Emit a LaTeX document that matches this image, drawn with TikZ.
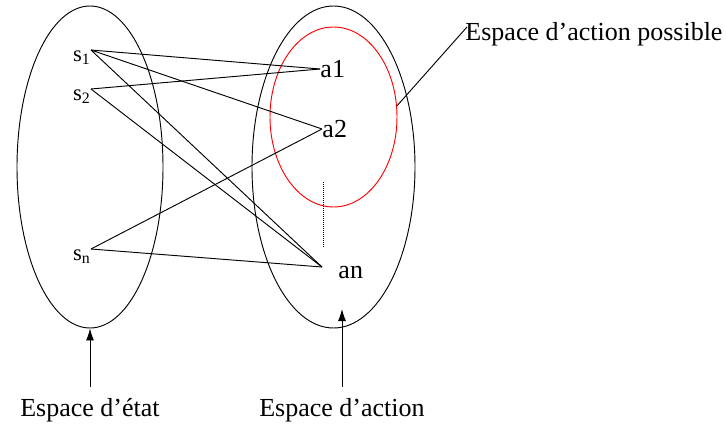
\documentclass[tikz,border=0pt]{standalone}
\usepackage{fontspec}
\setmainfont{Liberation Serif}
\usepackage{xcolor}
\usetikzlibrary{positioning,shapes.geometric,arrows.meta,calc}

\begin{document}
\begin{tikzpicture}[x=0.75pt,y=-0.75pt,line width=0.7pt,
    lbl/.style={font=\fontsize{19.5}{23}\selectfont, inner sep=0pt},
    small/.style={font=\fontsize{17}{20}\selectfont, inner sep=0pt},
    space/.style={draw, ellipse, inner sep=0pt},
    up/.style={-{Latex[length=9pt,width=6pt]}}]
    \useasboundingbox (0,0) rectangle (726,425);

    % the two spaces
    \node[space, minimum width=146*0.75pt, minimum height=322*0.75pt] (etat) at (90,167) {};
    \node[space, minimum width=163*0.75pt, minimum height=322*0.75pt] (action) at (333.5,167) {};
    \node[space, draw=red, minimum width=127*0.75pt, minimum height=180*0.75pt] (possible) at (333.5,117) {};

    % states
    \node[small, anchor=north east] (s1) at (91,50) {s\textsubscript{1}};
    \node[small, anchor=north east] (s2) at (91,89) {s\textsubscript{2}};
    \node[small, anchor=north east] (sn) at (91,249) {s\textsubscript{n}};

    % actions
    \node[lbl, anchor=west] (a1) at (320,69) {a1};
    \node[lbl, anchor=west] (a2) at (322,129) {a2};
    \node[lbl, anchor=west] (an) at (338,272) {an};
    \coordinate (anpt) at (322,267);

    \draw (s1.north east) -- (a1.west);
    \draw (s1.north east) -- (a2.west);
    \draw (s1.north east) -- (anpt);
    \draw (s2.north east) -- (a1.west);
    \draw (s2.north east) -- (anpt);
    \draw (sn.north east) -- (a2.west);
    \draw (sn.north east) -- (anpt);

    \draw[densely dotted, line width=0.5pt] (323,182) -- (323,248);

    % captions
    \node[lbl] (cetat) at (90,410) {Espace d'état};
    \node[lbl] (caction) at (342,410) {Espace d'action};
    \node[lbl, anchor=west] (cposs) at (465,34) {Espace d'action possible};

    \draw[up] (cetat.north |- 0,387) -- (etat.south);
    \draw[up] (caction.north |- 0,387) -- (342,309);
    \draw (possible.10) -- (467,27);
\end{tikzpicture}
\end{document}
